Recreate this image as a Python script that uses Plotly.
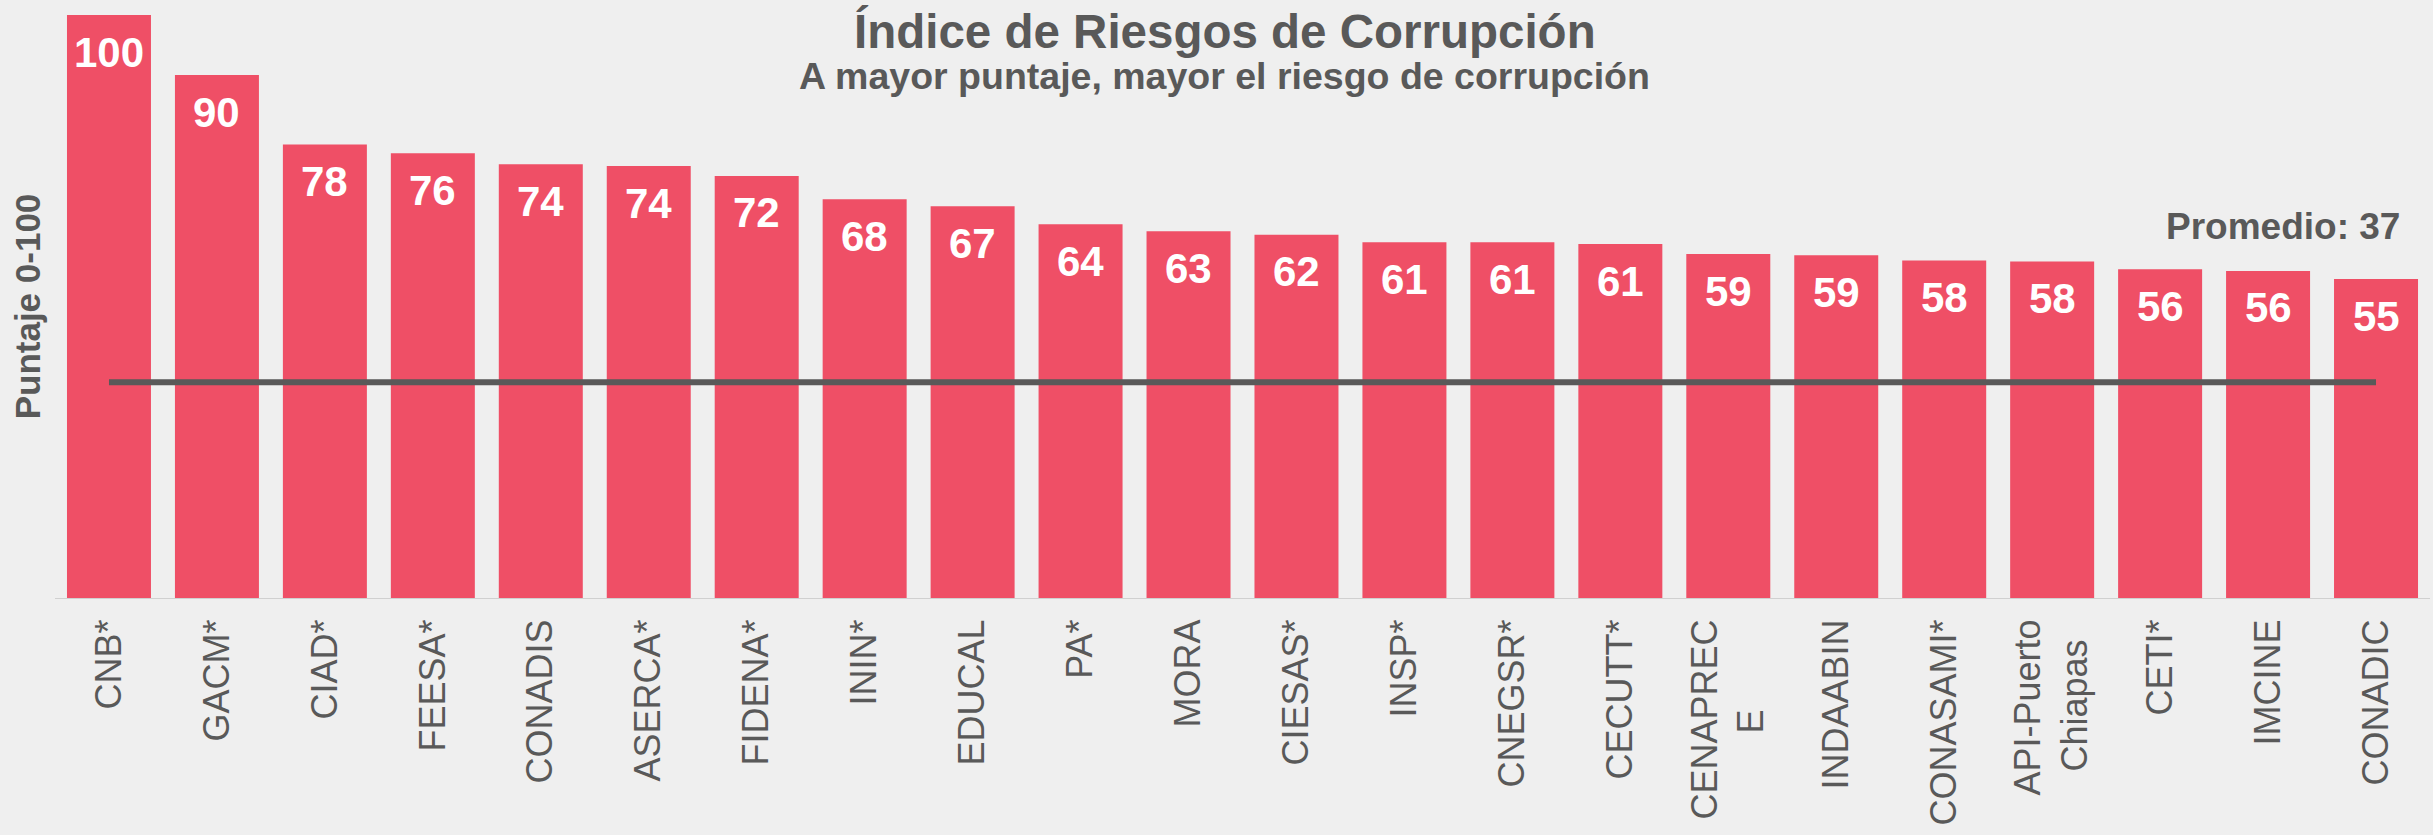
import plotly.graph_objects as go

# ---- data ----
categories = ["CNB*", "GACM*", "CIAD*", "FEESA*", "CONADIS", "ASERCA*", "FIDENA*",
              "ININ*", "EDUCAL", "PA*", "MORA", "CIESAS*", "INSP*", "CNEGSR*",
              "CECUTT*", "CENAPRECE", "INDAABIN", "CONASAMI*", "API-Puerto Chiapas",
              "CETI*", "IMCINE", "CONADIC"]
tick_labels = ["CNB*", "GACM*", "CIAD*", "FEESA*", "CONADIS", "ASERCA*", "FIDENA*",
               "ININ*", "EDUCAL", "PA*", "MORA", "CIESAS*", "INSP*", "CNEGSR*",
               "CECUTT*", "CENAPREC<br>E" + "\u00a0" * 9, "INDAABIN", "CONASAMI*",
               "API-Puerto<br>Chiapas" + "\u00a0" * 2, "CETI*", "IMCINE", "CONADIC"]
scores = [100, 89.7, 77.8, 76.3, 74.4, 74.1, 72.4, 68.4, 67.2, 64.1, 62.9, 62.3,
          61.0, 61.0, 60.7, 59.0, 58.8, 57.9, 57.7, 56.4, 56.1, 54.7]
score_labels = [100, 90, 78, 76, 74, 74, 72, 68, 67, 64, 63, 62, 61, 61, 61,
                59, 59, 58, 58, 56, 56, 55]
average = 37

BAR = "#EF4F66"
GRAY = "#595959"
FONT = "Liberation Sans, Arial, sans-serif"

fig = go.Figure()
fig.add_trace(go.Bar(x=categories, y=scores, marker=dict(color=BAR, line=dict(width=0)),
                     hoverinfo="skip", showlegend=False))
fig.add_trace(go.Scatter(x=[categories[0], categories[-1]], y=[average, average],
                         mode="lines", line=dict(color=GRAY, width=6),
                         hoverinfo="skip", showlegend=False))

annotations = []
for c, v, lab in zip(categories, scores, score_labels):
    annotations.append(dict(x=c, y=v, xref="x", yref="y", text=str(lab),
                            showarrow=False, yanchor="middle", yshift=-37,
                            font=dict(family=FONT, size=42, color="white", weight="bold")))

annotations += [
    dict(text="Índice de Riesgos de Corrupción", xref="paper", yref="paper",
         x=0.4925, y=0.972, xanchor="center", yanchor="middle", showarrow=False,
         font=dict(family=FONT, size=47.5, color=GRAY, weight="bold")),
    dict(text="A mayor puntaje, mayor el riesgo de corrupción", xref="paper", yref="paper",
         x=0.4925, y=0.895, xanchor="center", yanchor="middle", showarrow=False,
         font=dict(family=FONT, size=37.5, color=GRAY, weight="bold")),
    dict(text=f"Promedio: {average}", xref="paper", yref="paper",
         x=0.988, y=0.638, xanchor="right", yanchor="middle", showarrow=False,
         font=dict(family=FONT, size=37, color=GRAY, weight="bold")),
]

fig.update_layout(
    width=2433, height=835,
    margin=dict(l=55, r=3, t=15, b=237),
    paper_bgcolor="#EFEFEF", plot_bgcolor="#EFEFEF",
    bargap=0.222,
    annotations=annotations,
    xaxis=dict(tickmode="array", tickvals=categories, ticktext=tick_labels,
               tickangle=-90, tickfont=dict(family=FONT, size=36, color=GRAY),
               ticks="outside", ticklen=6, tickcolor="rgba(0,0,0,0)",
               showline=True, linecolor="#D0D0D0", linewidth=1, automargin=False,
               showgrid=False, zeroline=False, range=[-0.5, 21.5]),
    yaxis=dict(range=[0, 100], showgrid=False, zeroline=False, showticklabels=False,
               ticks="", showline=False, automargin=False,
               title=dict(text="Puntaje 0-100", standoff=2,
                          font=dict(family=FONT, size=35, color=GRAY, weight="bold"))),
)

fig.write_html("out.html",
               config={"displayModeBar": False},
               post_script="document.body.style.margin='0';"
                           "document.body.style.overflow='hidden';"
                           "document.body.style.background='#EFEFEF';")
